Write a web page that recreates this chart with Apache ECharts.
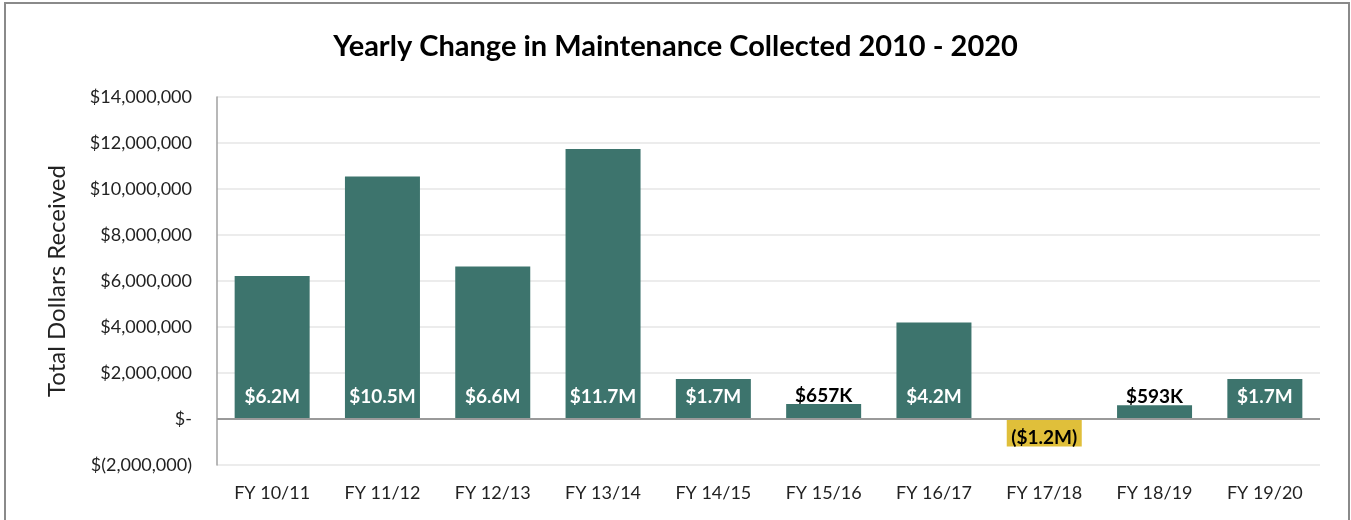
<!DOCTYPE html>
<html>
<head>
    <meta charset="utf-8">
    <title>Yearly Change in Maintenance Collected</title>
    <script src="https://cdn.jsdelivr.net/npm/echarts@6/dist/echarts.min.js"></script>
    <style>
        html, body { margin: 0; padding: 0; background: #fff; }
        #main { width: 1351px; height: 520px; }
    </style>
</head>
<body>
    <div id="main"></div>
    <script type="text/javascript">
        // data
        var categories = ['FY 10/11', 'FY 11/12', 'FY 12/13', 'FY 13/14', 'FY 14/15',
                          'FY 15/16', 'FY 16/17', 'FY 17/18', 'FY 18/19', 'FY 19/20'];
        var yearlyChange = [6220000, 10540000, 6630000, 11740000, 1740000,
                            657000, 4200000, -1200000, 593000, 1740000];
        var yTicks = [-2000000, 0, 2000000, 4000000, 6000000, 8000000, 10000000, 12000000, 14000000];

        var TEAL = '#3d746d';
        var GOLD = '#e0bf3a';
        var FONT = 'Lato, "Open Sans", sans-serif';

        function barLabel(v) {
            if (v < 0) return '($' + (Math.abs(v) / 1e6).toFixed(1) + 'M)';
            if (v >= 1e6) return '$' + (v / 1e6).toFixed(1) + 'M';
            return '$' + Math.round(v / 1e3) + 'K';
        }

        function axisMoney(v) {
            if (v === 0) return '$-';
            if (v < 0) return '$(' + Math.abs(v).toLocaleString('en-US') + ')';
            return '$' + v.toLocaleString('en-US');
        }

        var barData = yearlyChange.map(function (v) {
            var item = { value: v, itemStyle: { color: v < 0 ? GOLD : TEAL } };
            if (v < 0) {
                item.label = { position: 'inside', color: '#000', offset: [0, 5] };
            } else if (v < 1e6) {
                item.label = { position: 'top', color: '#000', distance: -1 };
            } else {
                item.label = { position: 'insideBottom', color: '#fff', distance: 13 };
            }
            return item;
        });

        var myChart = echarts.init(document.getElementById('main'));

        var option = {
            animation: false,
            backgroundColor: '#fff',
            textStyle: { fontFamily: FONT },
            title: {
                text: 'Yearly Change in Maintenance Collected 2010 - 2020',
                left: 'center',
                top: 27,
                textStyle: { fontSize: 29, fontWeight: 'bold', color: '#000', fontFamily: FONT }
            },
            graphic: [{
                type: 'rect',
                silent: true,
                shape: { x: 5, y: 3, width: 1344, height: 540 },
                style: { fill: 'none', stroke: '#8a8a8a', lineWidth: 2 }
            }],
            grid: { left: 217, right: 31, top: 97, bottom: 55 },
            xAxis: {
                type: 'category',
                data: categories,
                axisLine: { show: false },
                axisTick: { show: false },
                axisLabel: { fontSize: 18, color: '#222', margin: 19, fontFamily: FONT }
            },
            yAxis: {
                type: 'value',
                min: yTicks[0],
                max: yTicks[yTicks.length - 1],
                interval: 2000000,
                name: 'Total Dollars Received',
                nameLocation: 'middle',
                nameGap: 148,
                nameTextStyle: { fontSize: 24, color: '#222', fontFamily: FONT },
                axisLine: { show: true, lineStyle: { color: '#a0a0a0', width: 1.5 } },
                axisTick: { show: false },
                axisLabel: { fontSize: 18, color: '#222', margin: 25, formatter: axisMoney, fontFamily: FONT },
                splitLine: { lineStyle: { color: '#e6e6e6', width: 1.5 } }
            },
            series: [{
                type: 'bar',
                data: barData,
                barWidth: '68%',
                label: {
                    show: true,
                    fontSize: 19,
                    fontWeight: 'bold',
                    fontFamily: FONT,
                    formatter: function (p) { return barLabel(p.value); }
                },
                markLine: {
                    silent: true,
                    symbol: 'none',
                    label: { show: false },
                    lineStyle: { color: '#9a9a9a', type: 'solid', width: 2 },
                    data: [{ yAxis: 0 }]
                }
            }]
        };

        myChart.setOption(option);
    </script>
</body>
</html>
